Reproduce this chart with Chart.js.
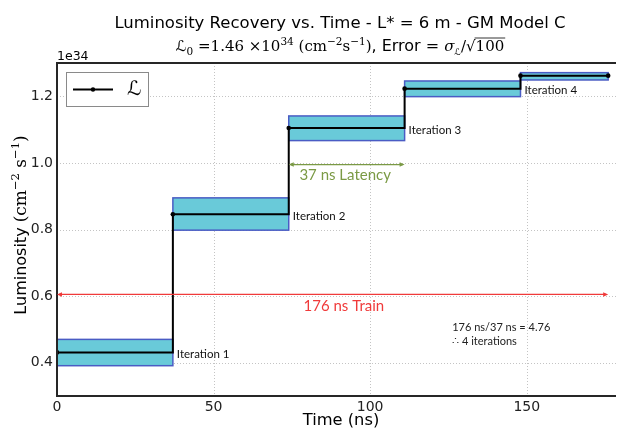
<!DOCTYPE html>
<html><head><meta charset="utf-8">
<script src="https://cdn.jsdelivr.net/npm/chart.js@4"></script>
<style>html,body{margin:0;padding:0;background:#fff}#wrap{width:620px;height:429px;position:relative}</style>
</head><body><div id="wrap"><canvas id="c"></canvas></div>
<script>
// ---- data ----
const stepStart = [0, 37, 74, 111, 148];
const stepEnd = [37, 74, 111, 148, 176];
const lumValues = [0.431, 0.846, 1.105, 1.223, 1.262];
const lumLow = [0.391, 0.798, 1.067, 1.199, 1.249];
const lumHigh = [0.470, 0.895, 1.141, 1.246, 1.271];
const iterationLabels = ['Iteration 1', 'Iteration 2', 'Iteration 3', 'Iteration 4'];
const xTicks = [0, 50, 100, 150];
const yTicks = [0.4, 0.6, 0.8, 1.0, 1.2];
const trainArrow = [0, 176, 0.605];
const latencyArrow = [74, 111, 0.995];
const trainText = '176 ns Train';
const latencyText = '37 ns Latency';
const noteLines = ['176 ns/37 ns = 4.76', '\u2234 4 iterations'];

// ---- annotation placement (data coords) ----
const trainLabelPos = {x: 91.6, y: 0.570};
const latencyLabelPos = {x: 77.4, y: 0.963};
const notePos = {x: 126.2, y: 0.507};

const lineData = stepStart.map((x, i) => ({x: x, y: lumValues[i]}))
  .concat([{x: stepEnd[stepEnd.length - 1], y: lumValues[lumValues.length - 1]}]);

const SANS = '"DejaVu Sans", sans-serif';
const SERIF = '"DejaVu Serif", serif';
const CAL = '"DejaVu Sans", sans-serif';
const NOTE = 'Lato, "Open Sans", sans-serif';

function richWidth(ctx, segs) {
  let w = 0;
  for (const s of segs) { ctx.font = s.font; w += ctx.measureText(s.t).width; }
  return w;
}
function drawRich(ctx, segs, cx, base) {
  const w = richWidth(ctx, segs);
  let x = cx - w / 2;
  ctx.textAlign = 'left'; ctx.textBaseline = 'alphabetic';
  for (const s of segs) {
    ctx.font = s.font; ctx.fillStyle = s.color || '#000';
    ctx.fillText(s.t, x, base + (s.dy || 0));
    const sw = ctx.measureText(s.t).width;
    if (s.over !== undefined) {
      ctx.beginPath(); ctx.moveTo(x - 1, base + s.over); ctx.lineTo(x + sw + 1, base + s.over);
      ctx.lineWidth = 0.8; ctx.strokeStyle = '#000'; ctx.stroke();
    }
    x += sw;
  }
}
function arrow(ctx, x1, x2, y, color) {
  ctx.save();
  ctx.strokeStyle = color; ctx.fillStyle = color; ctx.lineWidth = 1.2;
  ctx.beginPath(); ctx.moveTo(x1 + 2, y); ctx.lineTo(x2 - 2, y); ctx.stroke();
  const h = 5, hw = 2.2;
  ctx.beginPath(); ctx.moveTo(x1, y); ctx.lineTo(x1 + h, y - hw); ctx.lineTo(x1 + h, y + hw); ctx.closePath(); ctx.fill();
  ctx.beginPath(); ctx.moveTo(x2, y); ctx.lineTo(x2 - h, y - hw); ctx.lineTo(x2 - h, y + hw); ctx.closePath(); ctx.fill();
  ctx.restore();
}

const decor = {
  id: 'decor',
  beforeDatasetsDraw(chart) {
    const {ctx, chartArea: a, scales: {x, y}} = chart;
    ctx.save();
    ctx.strokeStyle = '#c4c4c4'; ctx.lineWidth = 1; ctx.setLineDash([1, 2]);
    for (const t of xTicks) {
      const px = Math.round(x.getPixelForValue(t)) + 0.5;
      ctx.beginPath(); ctx.moveTo(px, a.top); ctx.lineTo(px, a.bottom); ctx.stroke();
    }
    for (const t of yTicks) {
      const py = Math.round(y.getPixelForValue(t)) + 0.5;
      ctx.beginPath(); ctx.moveTo(a.left, py); ctx.lineTo(a.right, py); ctx.stroke();
    }
    ctx.setLineDash([]);
    for (let i = 0; i < stepStart.length; i++) {
      const x0 = x.getPixelForValue(stepStart[i]), x1 = x.getPixelForValue(stepEnd[i]);
      const y0 = y.getPixelForValue(lumHigh[i]), y1 = y.getPixelForValue(lumLow[i]);
      ctx.fillStyle = '#69cad9';
      ctx.fillRect(x0, y0, x1 - x0, y1 - y0);
      ctx.strokeStyle = '#4a5cc4'; ctx.lineWidth = 1.5;
      ctx.strokeRect(x0, y0, x1 - x0, y1 - y0);
    }
    ctx.restore();
  },
  afterDatasetsDraw(chart) {
    const {ctx, chartArea: a, scales: {x, y}} = chart;
    ctx.save();
    ctx.strokeStyle = '#262626'; ctx.lineWidth = 2;
    ctx.beginPath();
    ctx.moveTo(a.right, a.top); ctx.lineTo(a.left, a.top); ctx.lineTo(a.left, a.bottom); ctx.lineTo(a.right, a.bottom);
    ctx.stroke();

    arrow(ctx, x.getPixelForValue(trainArrow[0]), x.getPixelForValue(trainArrow[1]), y.getPixelForValue(trainArrow[2]), '#f03a3a');
    arrow(ctx, x.getPixelForValue(latencyArrow[0]), x.getPixelForValue(latencyArrow[1]), y.getPixelForValue(latencyArrow[2]), '#7b9a45');

    ctx.textBaseline = 'middle'; ctx.textAlign = 'center';
    ctx.font = '15px ' + NOTE; ctx.fillStyle = '#f03a3a';
    ctx.fillText(trainText, x.getPixelForValue(trainLabelPos.x), y.getPixelForValue(trainLabelPos.y));
    ctx.textAlign = 'left'; ctx.fillStyle = '#7b9a45';
    ctx.fillText(latencyText, x.getPixelForValue(latencyLabelPos.x), y.getPixelForValue(latencyLabelPos.y));

    ctx.font = '11.5px ' + NOTE; ctx.fillStyle = '#111';
    iterationLabels.forEach((t, i) => {
      ctx.fillText(t, x.getPixelForValue(stepEnd[i]) + 4, y.getPixelForValue(lumValues[i]) + 2);
    });
    ctx.font = '11px ' + NOTE; ctx.fillStyle = '#222';
    const nx = x.getPixelForValue(notePos.x), ny = y.getPixelForValue(notePos.y);
    noteLines.forEach((t, i) => ctx.fillText(t, nx, ny + i * 14));

    // legend
    ctx.fillStyle = '#fff'; ctx.strokeStyle = '#8a8a8a'; ctx.lineWidth = 1;
    ctx.fillRect(66.5, 72.5, 82, 34); ctx.strokeRect(66.5, 72.5, 82, 34);
    ctx.strokeStyle = '#000'; ctx.lineWidth = 2;
    ctx.beginPath(); ctx.moveTo(73, 89.5); ctx.lineTo(113, 89.5); ctx.stroke();
    ctx.fillStyle = '#000'; ctx.beginPath(); ctx.arc(93, 89.5, 2.2, 0, Math.PI * 2); ctx.fill();
    ctx.font = '20px ' + CAL; ctx.textAlign = 'left'; ctx.textBaseline = 'middle';
    ctx.fillText('\u2112', 127, 90);

    // titles
    ctx.textAlign = 'center'; ctx.textBaseline = 'alphabetic'; ctx.fillStyle = '#000';
    ctx.font = '16.5px ' + SANS;
    ctx.fillText('Luminosity Recovery vs. Time - L* = 6 m - GM Model C', 340, 28);
    const f = '15px ' + SERIF, fs = '10.5px ' + SERIF;
    drawRich(ctx, [
      {t: '\u2112', font: '15px ' + CAL},
      {t: '0', font: fs, dy: 4},
      {t: ' =1.46 \u00d710', font: f},
      {t: '34', font: fs, dy: -6},
      {t: ' (cm', font: f},
      {t: '\u22122', font: fs, dy: -6},
      {t: 's', font: f},
      {t: '\u22121', font: fs, dy: -6},
      {t: ')', font: f},
      {t: ', Error = ', font: '16px ' + SANS},
      {t: '\u03c3', font: 'italic 15px ' + SERIF},
      {t: '\u2112', font: '9px ' + CAL, dy: 4},
      {t: '/\u221a', font: f},
      {t: '100', font: f, over: -13}
    ], 340, 51);

    ctx.textAlign = 'left'; ctx.font = '12.5px ' + SANS;
    ctx.fillText('1e34', 57, 60);

    ctx.textAlign = 'center'; ctx.font = '16.3px ' + SANS;
    ctx.fillText('Time (ns)', 341, 425);

    ctx.save();
    ctx.translate(26, 225); ctx.rotate(-Math.PI / 2);
    const yf = '17px ' + SERIF, ys = '11.5px ' + SERIF;
    drawRich(ctx, [
      {t: 'Luminosity ', font: '16px ' + SANS},
      {t: '(cm', font: yf},
      {t: '\u22122', font: ys, dy: -7},
      {t: ' s', font: yf},
      {t: '\u22121', font: ys, dy: -7},
      {t: ')', font: yf}
    ], 0, 0);
    ctx.restore();
    ctx.restore();
  }
};

new Chart(document.getElementById('c'), {
  type: 'scatter',
  data: {
    datasets: [{
      label: '\u2112',
      data: lineData,
      showLine: true,
      stepped: true,
      borderColor: '#000',
      borderWidth: 2,
      pointRadius: 2.3,
      pointBackgroundColor: '#000',
      pointBorderWidth: 0
    }]
  },
  options: {
    responsive: true,
    maintainAspectRatio: false,
    animation: false,
    layout: {padding: {top: 63, left: 0, right: 0, bottom: 0}},
    plugins: {legend: {display: false}, tooltip: {enabled: false}, title: {display: false}},
    scales: {
      x: {
        type: 'linear', min: 0, max: 178.5,
        afterBuildTicks: s => { s.ticks = xTicks.map(v => ({value: v})); },
        afterFit: s => { s.height = 33; },
        grid: {display: false, drawTicks: false},
        border: {display: false},
        ticks: {font: {family: 'DejaVu Sans', size: 14}, color: '#222', padding: 3, maxRotation: 0,
          callback: v => String(v)}
      },
      y: {
        type: 'linear', min: 0.3, max: 1.3,
        afterBuildTicks: s => { s.ticks = yTicks.map(v => ({value: v})); },
        afterFit: s => { s.width = 57; },
        grid: {display: false, drawTicks: false},
        border: {display: false},
        ticks: {font: {family: 'DejaVu Sans', size: 14}, color: '#222', padding: 4,
          callback: v => Number(v).toFixed(1)}
      }
    }
  },
  plugins: [decor]
});
</script>
</body></html>
